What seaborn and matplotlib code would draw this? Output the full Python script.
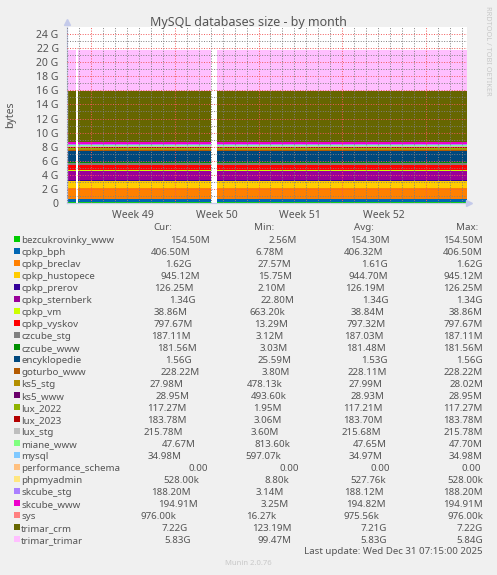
import numpy as np
import pandas as pd
import matplotlib
matplotlib.use("Agg")
import matplotlib.pyplot as plt
import matplotlib.dates as mdates
from matplotlib.patches import Rectangle
import seaborn as sns

# database sizes in bytes, as printed in the legend
names = ["bezcukrovinky_www", "cpkp_bph", "cpkp_breclav", "cpkp_hustopece", "cpkp_prerov",
         "cpkp_sternberk", "cpkp_vm", "cpkp_vyskov", "czcube_stg", "czcube_www",
         "encyklopedie", "goturbo_www", "ks5_stg", "ks5_www", "lux_2022", "lux_2023",
         "lux_stg", "miane_www", "mysql", "performance_schema", "phpmyadmin",
         "skcube_stg", "skcube_www", "sys", "trimar_crm", "trimar_trimar"]
cur = [154.50e6, 406.50e6, 1.62e9, 945.12e6, 126.25e6, 1.34e9, 38.86e6, 797.67e6, 187.11e6,
       181.56e6, 1.56e9, 228.22e6, 27.98e6, 28.95e6, 117.27e6, 183.78e6, 215.78e6, 47.67e6,
       34.98e6, 0.0, 528.00e3, 188.20e6, 194.91e6, 976.00e3, 7.22e9, 5.83e9]
mins = [2.56e6, 6.78e6, 27.57e6, 15.75e6, 2.10e6, 22.80e6, 663.20e3, 13.29e6, 3.12e6,
        3.03e6, 25.59e6, 3.80e6, 478.13e3, 493.60e3, 1.95e6, 3.06e6, 3.60e6, 813.60e3,
        597.07e3, 0.0, 8.80e3, 3.14e6, 3.25e6, 16.27e3, 123.19e6, 99.47e6]
avgs = [154.30e6, 406.32e6, 1.61e9, 944.70e6, 126.19e6, 1.34e9, 38.84e6, 797.32e6, 187.03e6,
        181.48e6, 1.53e9, 228.11e6, 27.99e6, 28.93e6, 117.21e6, 183.70e6, 215.68e6, 47.65e6,
        34.97e6, 0.0, 527.76e3, 188.12e6, 194.82e6, 975.56e3, 7.21e9, 5.83e9]
maxs = [154.50e6, 406.50e6, 1.62e9, 945.12e6, 126.25e6, 1.34e9, 38.86e6, 797.67e6, 187.11e6,
        181.56e6, 1.56e9, 228.22e6, 28.02e6, 28.95e6, 117.27e6, 183.78e6, 215.78e6, 47.70e6,
        34.98e6, 0.0, 528.00e3, 188.20e6, 194.91e6, 976.00e3, 7.22e9, 5.84e9]

colors = ["#00CC00", "#0066B3", "#FF8000", "#FFCC00", "#330099", "#990099", "#CCFF00",
          "#FF0000", "#808080", "#008F00", "#00487D", "#B35A00", "#B38F00", "#6B006B",
          "#8FB300", "#B30000", "#BEBEBE", "#80FF80", "#80C9FF", "#FFC080", "#FFE680",
          "#AA80FF", "#EE00CC", "#FF8080", "#666600", "#FFBFFF"]

# time span of the graph and the stretches where data exists
t_start = pd.Timestamp("2025-11-29 00:00")
t_end = pd.Timestamp("2026-01-01 10:00")
segments = [("2025-11-29 00:00", "2025-11-29 18:00"),
            ("2025-11-29 22:00", "2025-12-11 00:00"),
            ("2025-12-11 13:00", "2026-01-01 10:00")]

FONT = "Noto Sans"
TXT = "#555555"
W, H = 497, 575
LEG = 7.0


def si(v):
    for lim, p in ((1e9, "G"), (1e6, "M"), (1e3, "k")):
        if abs(v) >= lim:
            return "%6.2f%s" % (v / lim, p)
    return "%6.2f " % v


sns.set_theme(style="white")
plt.rcParams["font.family"] = [FONT, "DejaVu Sans"]

fig = plt.figure(figsize=(W / 100, H / 100), dpi=100, facecolor="#F0F0F0")
ax = fig.add_axes([67 / W, 1 - 203 / H, 400 / W, 176 / H])
ax.set_facecolor("white")

vals = np.array(cur) / 1e9
for a, b in segments:
    x = mdates.date2num([pd.Timestamp(a), pd.Timestamp(b)])
    ax.stackplot(x, np.column_stack([vals, vals]), colors=colors, linewidth=0)

ax.set_xlim(mdates.date2num(t_start), mdates.date2num(t_end))
ax.set_ylim(0, 25)

# grid
ax.set_yticks(np.arange(0, 25, 2))
ax.set_yticks(np.arange(1, 25, 2), minor=True)
ax.set_yticklabels(["0" if v == 0 else f"{v} G" for v in range(0, 25, 2)])
ax.xaxis.set_major_locator(mdates.WeekdayLocator(byweekday=mdates.MO))
ax.xaxis.set_minor_locator(mdates.DayLocator())
ax.set_xticklabels([])
ax.set_axisbelow(False)
ax.grid(which="major", color=(0.95, 0.35, 0.35, 0.5), linestyle=(0, (1, 1.6)), linewidth=0.7)
ax.grid(which="minor", color=(0.5, 0.5, 0.5, 0.45), linestyle=(0, (1, 1.6)), linewidth=0.7)
ax.tick_params(axis="both", which="both", length=0, labelsize=7.5, labelcolor=TXT, pad=6)
for lab in ax.get_yticklabels():
    lab.set_fontfamily(FONT)

for s in ["top", "right"]:
    ax.spines[s].set_visible(False)
for s in ["left", "bottom"]:
    ax.spines[s].set_color("#C4CAEA")
    ax.spines[s].set_linewidth(0.9)
ax.plot([0], [1.03], marker="^", color="#C4CAEA", markersize=4, transform=ax.transAxes, clip_on=False)
ax.plot([1.005], [0], marker=">", color="#C4CAEA", markersize=4, transform=ax.transAxes, clip_on=False)

# week labels centred between Mondays
for mon in pd.date_range("2025-11-24", "2026-01-05", freq="W-MON"):
    mid = mon + pd.Timedelta(hours=84)
    if t_start < mid < t_end:
        ax.text(mdates.date2num(mid), -0.04, "Week %d" % mid.isocalendar()[1],
                transform=ax.get_xaxis_transform(), ha="center", va="top",
                fontsize=7.5, color=TXT, family=FONT)

fig.text(248 / W, 1 - 26 / H, "MySQL databases size - by month", ha="center", va="baseline",
         fontsize=9, color=TXT, family=FONT)
fig.text(11 / W, 1 - 115 / H, "bytes", rotation=90, ha="center", va="center",
         fontsize=7.5, color=TXT, family=FONT)
fig.text(487 / W, 1 - 51 / H, "RRDTOOL / TOBI OETIKER", rotation=270, ha="center", va="center",
         fontsize=5.3, color="#C8C8C8", family=FONT)

# legend, justified like rrdtool
fig.canvas.draw()
rend = fig.canvas.get_renderer()


def width(s, size=LEG):
    t = fig.text(0, 0, "|" + s + "|", fontsize=size, family=FONT)
    w = t.get_window_extent(rend).width
    t.remove()
    t = fig.text(0, 0, "||", fontsize=size, family=FONT)
    w0 = t.get_window_extent(rend).width
    t.remove()
    return w - w0


for lab, px in zip(["Cur:", "Min:", "Avg:", "Max:"], [153, 254, 354, 456]):
    fig.text(px / W, 1 - 230 / H, lab, ha="left", va="baseline", fontsize=LEG, color=TXT, family=FONT)

pad = max(len(n) for n in names)
x_left, x_right = 21.0, 483.0
for i, name in enumerate(names):
    base = 242.7 + 12 * i
    items = [name.ljust(pad), si(cur[i]), si(mins[i]), si(avgs[i]), si(maxs[i])]
    ws = [width(s) for s in items]
    gap = (x_right - x_left - sum(ws)) / (len(items) - 1)
    x = x_left
    for s, w in zip(items, ws):
        lead = len(s) - len(s.lstrip())
        off = width(" " * lead) if lead else 0
        fig.text((x + off) / W, 1 - base / H, s.strip(), ha="left", va="baseline",
                 fontsize=LEG, color=TXT, family=FONT)
        x += w + gap
    fig.patches.append(Rectangle((14 / W, 1 - (base - 0.3) / H), 6 / W, 6 / H,
                                 transform=fig.transFigure, facecolor=colors[i],
                                 edgecolor="none", figure=fig))

fig.text(482.5 / W, 1 - 554.3 / H, "Last update: Wed Dec 31 07:15:00 2025", ha="right",
         va="baseline", fontsize=LEG, color=TXT, family=FONT)
fig.text(248 / W, 1 - 565 / H, "Munin 2.0.76", ha="center", va="baseline",
         fontsize=5.5, color="#C8C8C8", family=FONT)

fig.savefig("out.png", dpi=100, facecolor=fig.get_facecolor())
